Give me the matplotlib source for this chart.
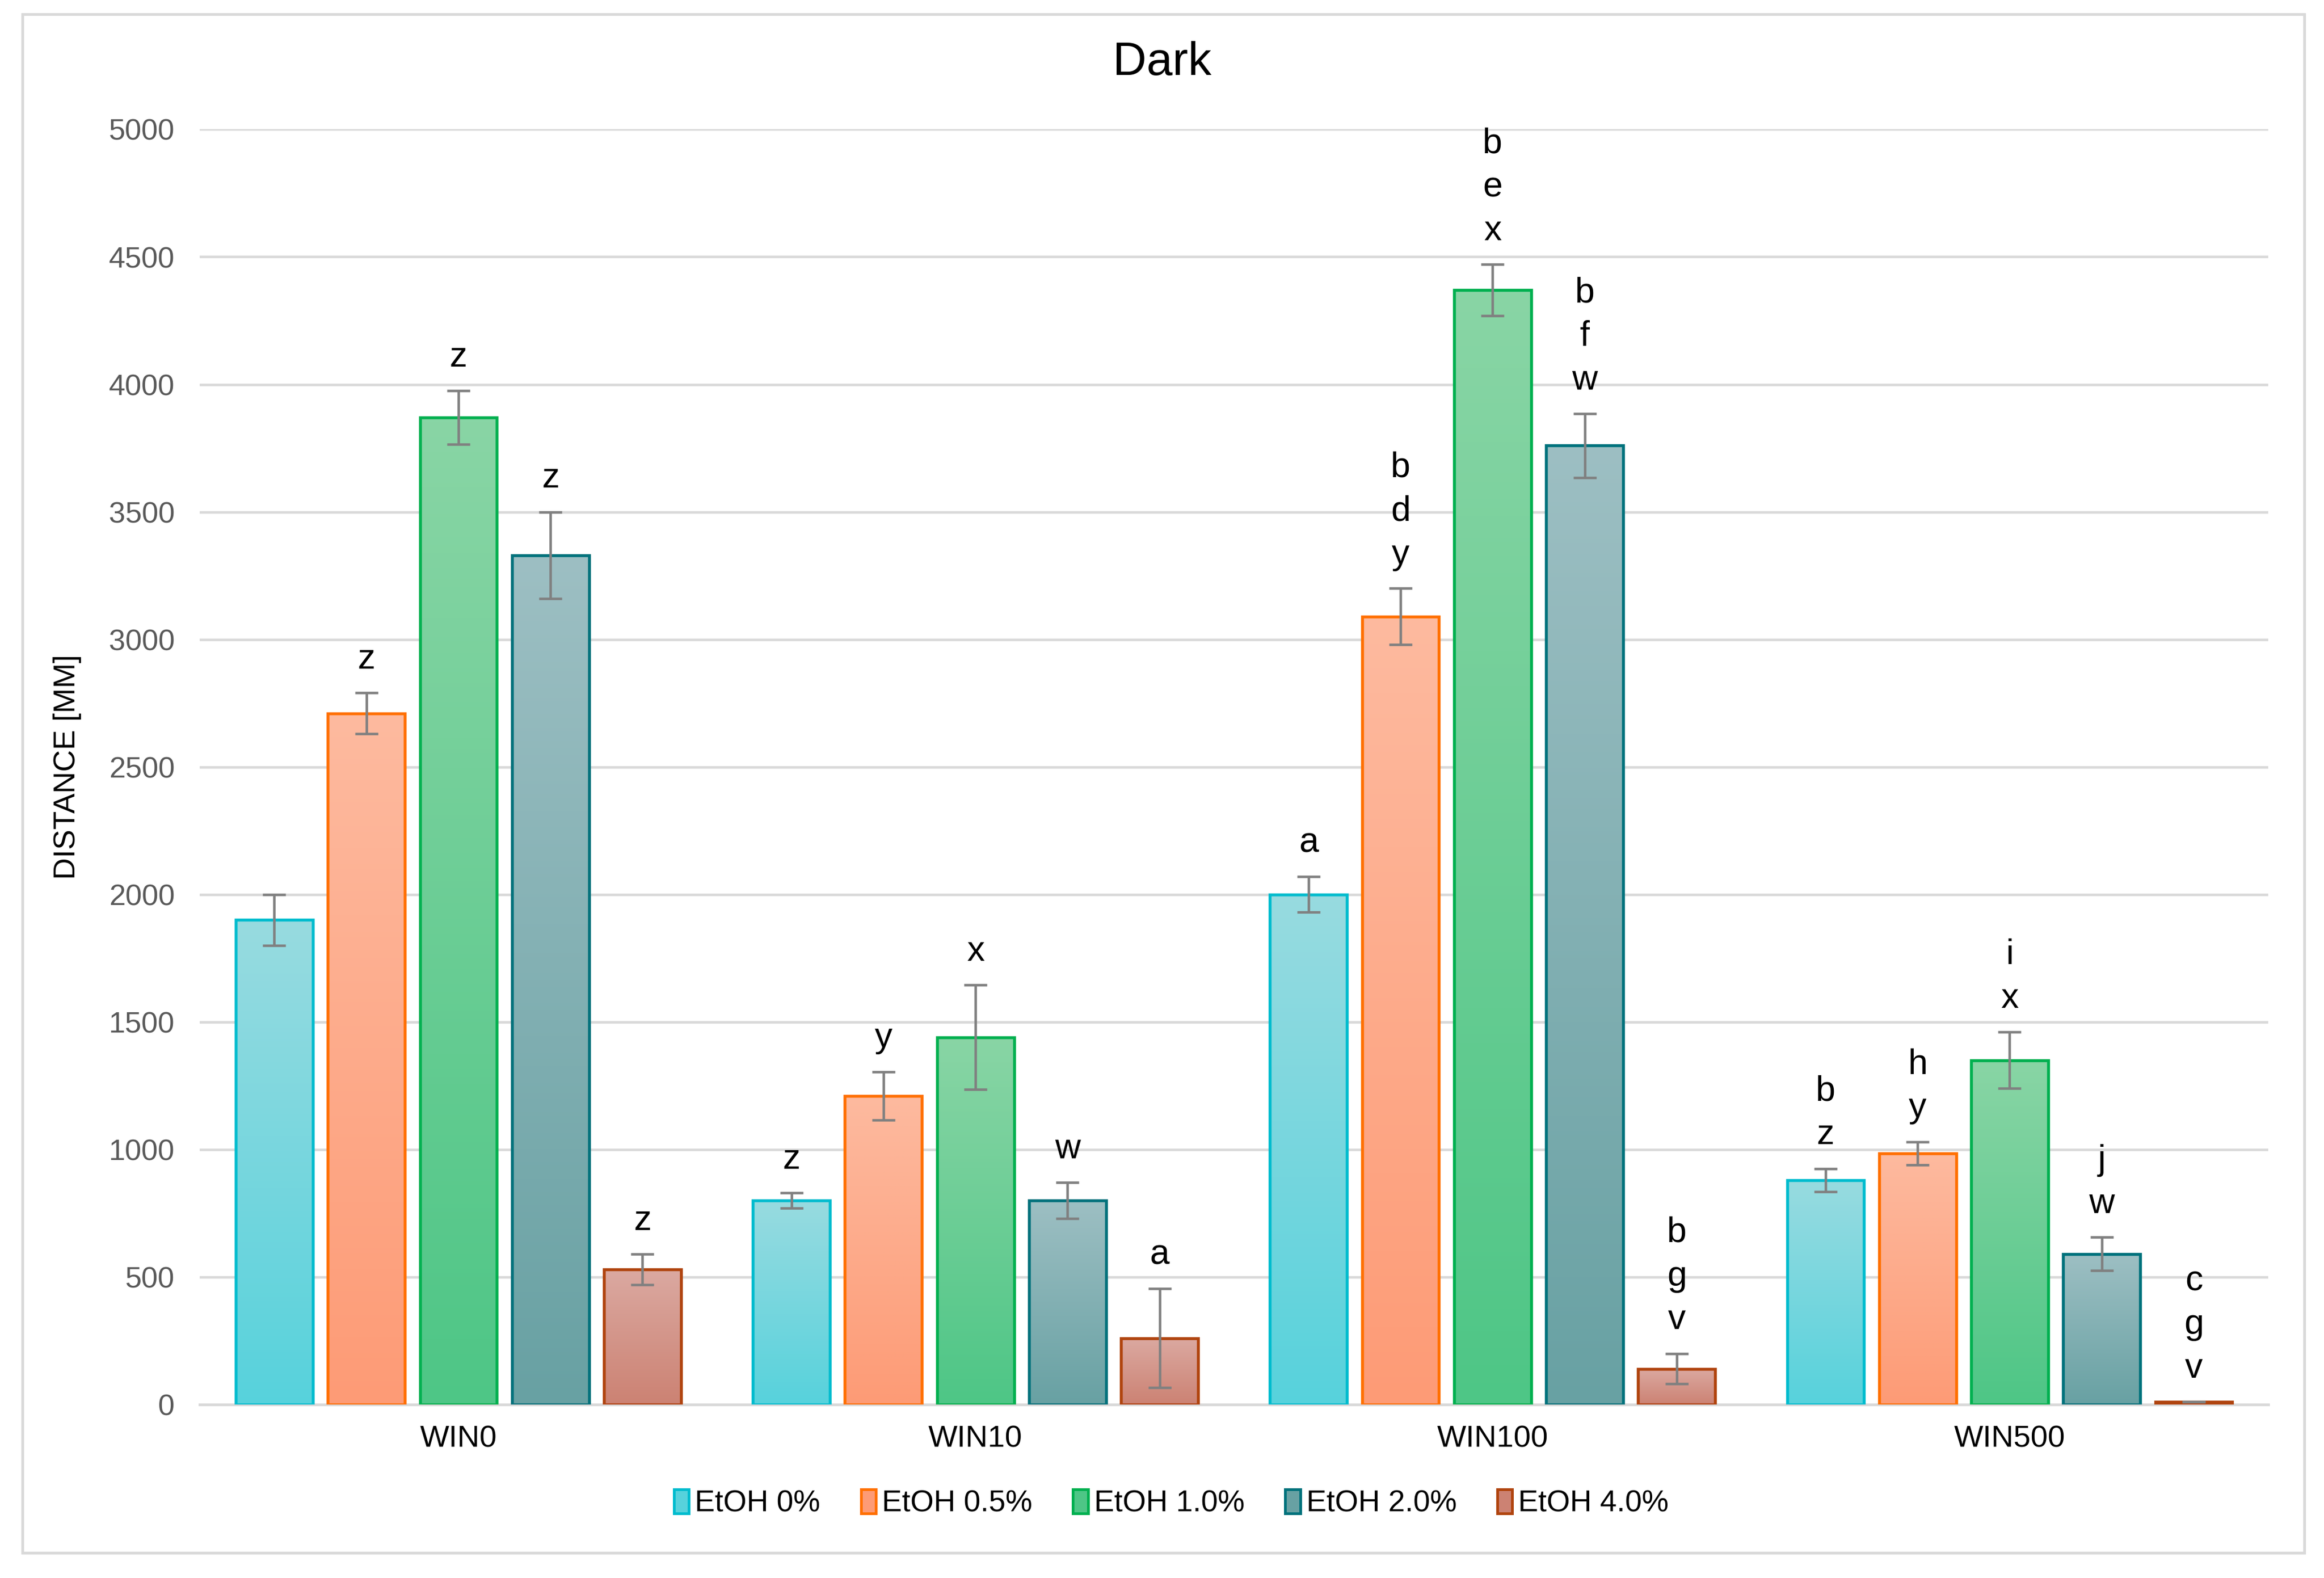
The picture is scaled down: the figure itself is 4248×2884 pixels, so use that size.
import numpy as np
import matplotlib.pyplot as plt
from matplotlib.colors import LinearSegmentedColormap
from matplotlib.patches import Patch, Rectangle

plt.rcParams['font.family'] = ['Liberation Sans', 'DejaVu Sans']

categories = ['WIN0', 'WIN10', 'WIN100', 'WIN500']
series = ['EtOH 0%', 'EtOH 0.5%', 'EtOH 1.0%', 'EtOH 2.0%', 'EtOH 4.0%']

etoh_0 = [1900, 800, 2000, 880]
etoh_05 = [2710, 1210, 3090, 985]
etoh_10 = [3870, 1440, 4370, 1350]
etoh_20 = [3330, 800, 3760, 590]
etoh_40 = [530, 260, 140, 10]

err_0 = [100, 30, 70, 45]
err_05 = [80, 95, 110, 45]
err_10 = [105, 205, 100, 110]
err_20 = [170, 70, 125, 65]
err_40 = [60, 195, 60, 0]

letters_0 = ['', 'z', 'a', 'b\nz']
letters_05 = ['z', 'y', 'b\nd\ny', 'h\ny']
letters_10 = ['z', 'x', 'b\ne\nx', 'i\nx']
letters_20 = ['z', 'w', 'b\nf\nw', 'j\nw']
letters_40 = ['z', 'a', 'b\ng\nv', 'c\ng\nv']

values = [etoh_0, etoh_05, etoh_10, etoh_20, etoh_40]
errors = [err_0, err_05, err_10, err_20, err_40]
letters = [letters_0, letters_05, letters_10, letters_20, letters_40]

# (top colour, bottom colour, edge colour)
styles = [
    ('#98DBE0', '#57D2DC', '#00BCCE'),
    ('#FDBA9F', '#FD9B76', '#FF7000'),
    ('#89D5A5', '#4EC686', '#00B050'),
    ('#9DBFC3', '#68A1A3', '#00727C'),
    ('#DBA9A1', '#CC8273', '#B0440E'),
]

fig = plt.figure(figsize=(14.16, 9.6134), dpi=300)
ax = fig.add_axes([0.086, 0.110, 0.890, 0.808])

fig.patches.append(Rectangle((0.0096, 0.016), 0.982, 0.975, transform=fig.transFigure,
                             fill=False, edgecolor='#D9D9D9', linewidth=1.2))

x = np.arange(len(categories))
width = 0.149
step = 0.178
grad = np.linspace(1, 0, 256).reshape(-1, 1)

for i, vals in enumerate(values):
    top, bottom, edge = styles[i]
    cmap = LinearSegmentedColormap.from_list('g%d' % i, [bottom, top])
    pos = x + (i - 2) * step
    bars = ax.bar(pos, vals, width, facecolor='none', edgecolor=edge, linewidth=1.3, zorder=3)
    for b in bars:
        im = ax.imshow(grad, extent=[b.get_x(), b.get_x() + b.get_width(), 0, b.get_height()],
                       aspect='auto', cmap=cmap, vmin=0, vmax=1, zorder=2)
        im.set_clip_path(b)
    ax.errorbar(pos, vals, yerr=errors[i], fmt='none', ecolor='#808080', elinewidth=1.1,
                capsize=5, capthick=1.1, zorder=4)
    for j, lab in enumerate(letters[i]):
        if lab:
            ax.annotate(lab, (pos[j], vals[j] + errors[i][j]), xytext=(0, 7.5),
                        textcoords='offset points', ha='center', va='bottom',
                        fontsize=15.5, linespacing=1.42, color='black', zorder=5)

ax.set_xlim(-0.5, 3.5)
ax.set_ylim(0, 5000)
ax.set_yticks(range(0, 5001, 500))
ax.set_xticks(x)
ax.set_xticklabels(categories)
ax.grid(axis='y', color='#D9D9D9', linewidth=1.1, zorder=0)
ax.set_axisbelow(True)
for s in ['top', 'right', 'left']:
    ax.spines[s].set_visible(False)
ax.spines['bottom'].set_color('#D9D9D9')
ax.spines['bottom'].set_linewidth(1.2)
ax.tick_params(axis='both', length=0)
ax.tick_params(axis='y', labelsize=13, labelcolor='#595959', pad=11)
ax.tick_params(axis='x', labelsize=13.5, labelcolor='#000000', pad=9)
ax.set_ylabel('DISTANCE [MM]', fontsize=13.2, labelpad=12)

fig.text(0.50, 0.960, 'Dark', ha='center', va='center', fontsize=20.5)

handles = [Patch(facecolor=s[1], edgecolor=s[2], linewidth=1.2) for s in styles]
fig.legend(handles, series, loc='center', bbox_to_anchor=(0.504, 0.047), ncol=5,
           frameon=False, fontsize=13.2, handlelength=0.5, handleheight=0.85,
           handletextpad=0.2, columnspacing=1.35)

fig.savefig('out.png', dpi=300)
